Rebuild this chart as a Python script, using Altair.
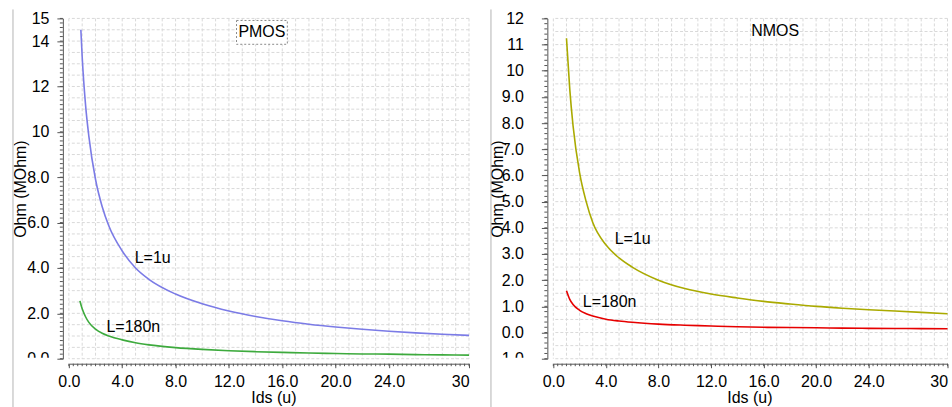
import altair as alt
import pandas as pd
import numpy as np

FONT = "Liberation Sans"

# ---------------- data ----------------
pmos_1u_ids = [0.9, 1.0, 1.25, 1.5, 2, 2.5, 3, 4, 5, 6, 8, 10, 12, 14, 16, 18, 20, 22, 24, 26, 28, 30]
pmos_1u_ohm = [14.5, 13.3, 11.2, 9.8, 7.9, 6.7, 5.85, 4.75, 4.0, 3.5, 2.85, 2.42, 2.1, 1.86, 1.67, 1.52, 1.40, 1.30, 1.21, 1.14, 1.08, 1.03]

pmos_180n_ids = [0.83, 1.0, 1.25, 1.5, 2, 2.5, 3, 4, 5, 6, 8, 10, 12, 14, 16, 18, 20, 22, 24, 26, 28, 30]
pmos_180n_ohm = [2.55, 2.2, 1.85, 1.6, 1.3, 1.12, 1.0, 0.83, 0.7, 0.61, 0.49, 0.41, 0.35, 0.31, 0.28, 0.25, 0.23, 0.21, 0.2, 0.18, 0.17, 0.16]

nmos_1u_ids = [1.0, 1.25, 1.5, 2, 2.5, 3, 4, 5, 6, 8, 10, 12, 14, 16, 18, 20, 22, 24, 26, 28, 30]
nmos_1u_ohm = [11.24, 9.3, 7.9, 6.1, 5.0, 4.2, 3.35, 2.85, 2.5, 2.0, 1.68, 1.47, 1.32, 1.19, 1.09, 1.0, 0.93, 0.87, 0.82, 0.77, 0.72]

nmos_180n_ids = [1.0, 1.25, 1.5, 2, 2.5, 3, 4, 5, 6, 8, 10, 12, 14, 16, 18, 20, 22, 24, 26, 28, 30]
nmos_180n_ohm = [1.6, 1.27, 1.07, 0.85, 0.72, 0.63, 0.51, 0.44, 0.39, 0.32, 0.28, 0.25, 0.22, 0.2, 0.19, 0.18, 0.17, 0.16, 0.155, 0.15, 0.145]

series_names = ["L=1u", "L=180n"]
pmos_colors = ["#7b7be6", "#3daa3d"]
nmos_colors = ["#aaaa00", "#e60000"]

x_tick_vals = [0, 4, 8, 12, 16, 20, 24, 30]
pmos_y_ticks = [0, 2, 4, 6, 8, 10, 12, 14, 15]
nmos_y_ticks = list(range(-1, 13))

# annotations (data coordinates)
pmos_notes_text = ["L=1u", "L=180n"]
pmos_notes_x = [4.94, 2.82]
pmos_notes_y = [4.44, 1.41]
nmos_notes_text = ["L=1u", "L=180n"]
nmos_notes_x = [4.67, 2.24]
nmos_notes_y = [3.56, 1.18]
pmos_title = {"text": "PMOS", "x": 14.47, "y": 14.38, "x1": 12.57, "x2": 16.38, "y1": 14.91, "y2": 13.86}
nmos_title = {"text": "NMOS", "x": 16.88, "y": 11.5}

W_L, W_R, H = 401, 395, 341
AXC = "#555555"
GRID = "#d9d9d9"


def panel(ids_list, ohm_list, colors, ydom, yticks, w, ylabpad, ytitlex, xtitlex,
          sep_x, cover_x1, nx, ny, ntext, title, box):
    xs = alt.Scale(domain=[0, 30], nice=False, zero=False)
    ys = alt.Scale(domain=ydom, nice=False, zero=False)

    ylabel_expr = ("datum.value < 0 ? '-' + format(abs(datum.value), '.1f') : "
                   "(datum.value >= 10 ? format(datum.value, 'd') : format(datum.value, '.1f'))")
    x_axis = alt.Axis(values=x_tick_vals, offset=5, tickSize=4, grid=False,
                      labelExpr="datum.value == 30 ? '30' : format(datum.value, '.1f')",
                      labelAlign={"condition": {"test": "datum.value == 30", "value": "right"}, "value": "center"},
                      labelFlush=False, labelOverlap=False, labelPadding=6,
                      labelFont=FONT, labelFontSize=16, labelColor="black",
                      domainColor=AXC, tickColor=AXC,
                      title="Ids (u)", titleFont=FONT, titleFontSize=16, titleFontWeight="normal",
                      titleColor="black", titleX=xtitlex, titleY=39, titleBaseline="alphabetic",
                      titleAlign="center")
    y_axis = alt.Axis(values=yticks, offset=6, tickSize=6, grid=False,
                      labelExpr=ylabel_expr, labelFlush=False, labelOverlap=False,
                      labelPadding=ylabpad, labelFont=FONT, labelFontSize=16, labelColor="black",
                      domainColor=AXC, tickColor=AXC,
                      title="Ohm (MOhm)", titleFont=FONT, titleFontSize=16, titleFontWeight="normal",
                      titleColor="black", titleX=ytitlex, titleY=H / 2, titleAngle=270,
                      titleBaseline="middle", titleAlign="center")

    def X(f):
        return alt.X(f, scale=xs, axis=x_axis, title="Ids (u)")

    def Y(f):
        return alt.Y(f, scale=ys, axis=y_axis, title="Ohm (MOhm)")

    layers = []
    # grid
    gx = pd.DataFrame({"g": np.arange(0, 31)})
    layers.append(alt.Chart(gx).mark_rule(color=GRID, strokeDash=[3, 2], strokeWidth=1)
                  .encode(x=X("g:Q")))
    gy = pd.DataFrame({"g": np.round(np.arange(ydom[0], ydom[1] + 1e-9, 0.5), 3)})
    layers.append(alt.Chart(gy).mark_rule(color=GRID, strokeDash=[3, 2], strokeWidth=1)
                  .encode(y=Y("g:Q")))
    # minor ticks
    my = pd.DataFrame({"v": np.round(np.arange(ydom[0], ydom[1] + 1e-9, 0.2), 3)})
    layers.append(alt.Chart(my).mark_rule(color=AXC, strokeWidth=1)
                  .encode(y=Y("v:Q"), x=alt.value(-6), x2=alt.value(-9)))
    mx = pd.DataFrame({"v": np.round(np.arange(0, 30 + 1e-9, 1 / 3), 4)})
    layers.append(alt.Chart(mx).mark_rule(color=AXC, strokeWidth=1)
                  .encode(x=X("v:Q"), y=alt.value(H + 5), y2=alt.value(H + 7.5)))
    # separator line
    layers.append(alt.Chart(pd.DataFrame({"a": [0]})).mark_rule(color="#b4b4b4", strokeWidth=1)
                  .encode(x=alt.value(sep_x), y=alt.value(-9), y2=alt.value(420)))
    # the viewer clips the lowest y label: white band below the plot edge, left of the ticks
    layers.append(alt.Chart(pd.DataFrame({"a": [0]})).mark_rect(fill="white")
                  .encode(x=alt.value(cover_x1), x2=alt.value(-13),
                          y=alt.value(H - 1), y2=alt.value(H + 12)))
    # curves
    frames = []
    for name, xi, yi in zip(series_names, ids_list, ohm_list):
        frames.append(pd.DataFrame({"ids": xi, "ohm": yi, "series": name}))
    df = pd.concat(frames)
    layers.append(alt.Chart(df).mark_line(strokeWidth=1.6, interpolate="monotone").encode(
        x=X("ids:Q"),
        y=Y("ohm:Q"),
        color=alt.Color("series:N", scale=alt.Scale(domain=series_names, range=colors), legend=None),
    ))
    # series labels
    nd = pd.DataFrame({"x": nx, "y": ny, "t": ntext})
    layers.append(alt.Chart(nd).mark_text(align="left", baseline="middle", font=FONT, fontSize=16,
                                          color="black")
                  .encode(x=X("x:Q"), y=Y("y:Q"), text="t:N"))
    # panel title
    if box:
        bd = pd.DataFrame({"x1": [title["x1"]], "x2": [title["x2"]], "y1": [title["y1"]], "y2": [title["y2"]]})
        layers.append(alt.Chart(bd).mark_rect(fill="white", stroke="#8a8a8a", strokeDash=[2, 2],
                                              strokeWidth=1)
                      .encode(x=X("x1:Q"), x2="x2:Q", y=Y("y1:Q"), y2="y2:Q"))
    td = pd.DataFrame({"x": [title["x"]], "y": [title["y"]], "t": [title["text"]]})
    layers.append(alt.Chart(td).mark_text(align="center", baseline="middle", font=FONT, fontSize=16,
                                          color="black")
                  .encode(x=X("x:Q"), y=Y("y:Q"), text="t:N"))
    return alt.layer(*layers).properties(width=w, height=H)


left = panel([pmos_1u_ids, pmos_180n_ids], [pmos_1u_ohm, pmos_180n_ohm], pmos_colors,
             [0, 15], pmos_y_ticks, W_L, 8, -42, 205, -56, -50,
             pmos_notes_x, pmos_notes_y, pmos_notes_text, pmos_title, True)
right = panel([nmos_1u_ids, nmos_180n_ids], [nmos_1u_ohm, nmos_180n_ohm], nmos_colors,
              [-1, 12], nmos_y_ticks, W_R, 18, -50, 196.5, -62.5, -58,
              nmos_notes_x, nmos_notes_y, nmos_notes_text, nmos_title, False)

chart = alt.hconcat(left, right, spacing=84.5, bounds="flush").resolve_scale(
    color="independent", x="independent", y="independent"
).properties(
    padding={"left": 12, "top": 8, "right": 0, "bottom": 0},
    background="white",
).configure_view(stroke="transparent")

chart.save("out.html", embed_options={"renderer": "svg", "actions": False})
